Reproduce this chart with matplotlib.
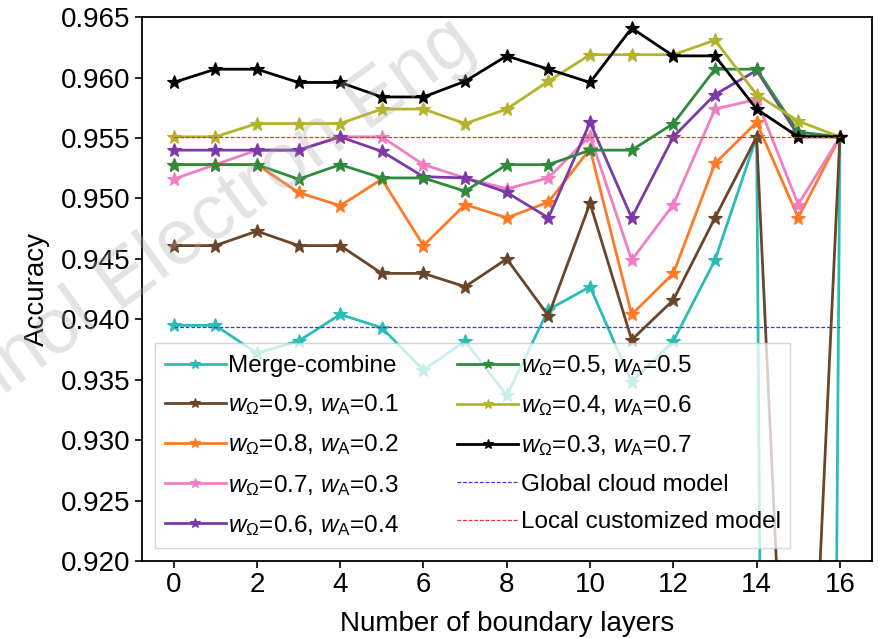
import numpy as np
import matplotlib
matplotlib.use("Agg")
import matplotlib.pyplot as plt

plt.rcParams["font.family"] = ["Liberation Sans", "DejaVu Sans"]
plt.rcParams["mathtext.fontset"] = "custom"
plt.rcParams["mathtext.rm"] = "Liberation Sans"
plt.rcParams["mathtext.it"] = "Liberation Sans:italic"
plt.rcParams["mathtext.bf"] = "Liberation Sans:bold"

layers = list(range(17))

merge_combine = [0.9395, 0.9395, 0.9372, 0.9382, 0.9404, 0.9393, 0.9358, 0.9382, 0.9337,
                 0.9408, 0.9427, 0.9348, 0.9382, 0.9449, 0.9551, 0.500, 0.9551]
w09 = [0.9461, 0.9461, 0.9473, 0.9461, 0.9461, 0.9438, 0.9438, 0.9427, 0.9450,
       0.9403, 0.9496, 0.9383, 0.9416, 0.9484, 0.9551, 0.881, 0.9551]
w08 = [0.9528, 0.9528, 0.9528, 0.9505, 0.9494, 0.9516, 0.9461, 0.9495, 0.9484,
       0.9497, 0.9541, 0.9404, 0.9438, 0.9529, 0.9563, 0.9484, 0.9551]
w07 = [0.9516, 0.9528, 0.9540, 0.9540, 0.9551, 0.9551, 0.9528, 0.9517, 0.9508,
       0.9517, 0.9552, 0.9449, 0.9495, 0.9574, 0.9582, 0.9495, 0.9551]
w06 = [0.9540, 0.9540, 0.9540, 0.9540, 0.9551, 0.9539, 0.9518, 0.9517, 0.9505,
       0.9484, 0.9563, 0.9484, 0.9551, 0.9586, 0.9606, 0.9552, 0.9551]
w05 = [0.9528, 0.9528, 0.9528, 0.9516, 0.9528, 0.9517, 0.9517, 0.9506, 0.9528,
       0.9528, 0.9540, 0.9540, 0.9562, 0.9607, 0.9607, 0.9555, 0.9551]
w04 = [0.9551, 0.9551, 0.9562, 0.9562, 0.9562, 0.9574, 0.9574, 0.9562, 0.9574,
       0.9597, 0.9619, 0.9619, 0.9619, 0.9631, 0.9586, 0.9564, 0.9551]
w03 = [0.9596, 0.9607, 0.9607, 0.9596, 0.9596, 0.9584, 0.9584, 0.9597, 0.9618,
       0.9607, 0.9596, 0.9641, 0.9618, 0.9618, 0.9574, 0.9551, 0.9551]

global_cloud = 0.9394
local_custom = 0.9551

series = [
    ("Merge-combine", merge_combine, "#2bbdb5"),
    (r"$w_\Omega$=0.9, $w_\mathrm{A}$=0.1", w09, "#6b4528"),
    (r"$w_\Omega$=0.8, $w_\mathrm{A}$=0.2", w08, "#ff7a26"),
    (r"$w_\Omega$=0.7, $w_\mathrm{A}$=0.3", w07, "#ef7ec3"),
    (r"$w_\Omega$=0.6, $w_\mathrm{A}$=0.4", w06, "#7b3aa6"),
    (r"$w_\Omega$=0.5, $w_\mathrm{A}$=0.5", w05, "#2f8a3c"),
    (r"$w_\Omega$=0.4, $w_\mathrm{A}$=0.6", w04, "#b3b42c"),
    (r"$w_\Omega$=0.3, $w_\mathrm{A}$=0.7", w03, "#000000"),
]

fig = plt.figure(figsize=(8.79, 6.38), dpi=100)
ax = fig.add_axes([0.1615, 0.1207, 0.8305, 0.8523])

for label, vals, col in series:
    ax.plot(layers, vals, color=col, lw=2.0, marker="*", ms=10,
            markeredgewidth=0.8, label=label)

ax.plot([layers[0], layers[-1]], [global_cloud, global_cloud], color="#3b3bd0",
        lw=0.9, ls=(0, (3, 1.5)), label="Global cloud model")
ax.plot([layers[0], layers[-1]], [local_custom, local_custom], color="#f03030",
        lw=0.9, ls=(0, (3, 1.5)), label="Local customized model")

ax.set_xlim(-0.76, 16.77)
ax.set_ylim(0.920, 0.965)
ax.set_xticks(range(0, 17, 2))
ax.set_yticks(np.arange(0.920, 0.9651, 0.005))
ax.yaxis.set_major_formatter(matplotlib.ticker.FormatStrFormatter("%.3f"))
ax.tick_params(axis="both", labelsize=20, direction="out", length=5, width=1.2, pad=3)
ax.tick_params(top=False, right=False)
for sp in ax.spines.values():
    sp.set_linewidth(1.3)

ax.set_xlabel("Number of boundary layers", fontsize=20, labelpad=9)
ax.set_ylabel("Accuracy", fontsize=20, labelpad=8)

leg = ax.legend(loc="lower left", ncol=2, fontsize=17.5, frameon=True,
                framealpha=0.75, edgecolor="#c8c8c8", fancybox=False,
                handlelength=2.5, handletextpad=0.1, columnspacing=2.4,
                labelspacing=0.63, borderaxespad=0.55, borderpad=0.4,
                markerscale=0.75)
leg.get_frame().set_linewidth(1.0)

fig.text(0.545, 0.92, "Front Inform Technol Electron Eng", fontsize=56,
         color="#a8a8a8", alpha=0.32, rotation=36, ha="right", va="baseline",
         rotation_mode="anchor", zorder=0)

fig.savefig("out.png", dpi=100)
